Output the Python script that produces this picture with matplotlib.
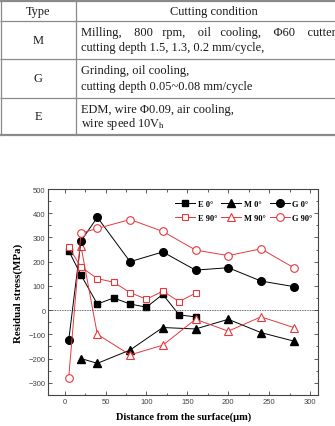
import matplotlib
matplotlib.use("Agg")
import matplotlib.pyplot as plt
from matplotlib.ticker import MultipleLocator

plt.rcParams['font.family'] = ['Liberation Serif', 'DejaVu Serif']
plt.rcParams['mathtext.fontset'] = 'stix'

# table contents
col_heads = ["Type", "Cutting condition"]
types = ["M", "G", "E"]
conditions = [
    ["Milling,    800   rpm,    oil   cooling,    \u03a660    cutter", "cutting depth 1.5, 1.3, 0.2 mm/cycle,"],
    ["Grinding, oil cooling,", "cutting depth 0.05~0.08 mm/cycle"],
    ["EDM, wire \u03a60.09, air cooling,", "wire speed 10V$_\\mathrm{h}$"],
]

# residual stress data (MPa) vs distance (um)
x_e = [5, 20, 40, 60, 80, 100, 120, 140, 160]
e0 = [245, 145, 25, 50, 25, 12, 65, -20, -28]
e90 = [260, 178, 130, 115, 72, 45, 78, 35, 70]
x_m = [20, 40, 80, 120, 160, 200, 240, 280]
m0 = [-200, -220, -165, -72, -78, -38, -93, -128]
m90 = [264, -100, -185, -145, -38, -87, -28, -72]
x_g = [5, 20, 40, 80, 120, 160, 200, 240, 280]
g0 = [-125, 285, 383, 200, 240, 165, 175, 120, 97]
g90 = [-280, 318, 337, 374, 325, 248, 225, 253, 175]

fig = plt.figure(figsize=(3.35, 4.27), dpi=100)

# --- table drawn in pixel coordinates ---
tab = fig.add_axes([0, 0, 1, 1])
tab.set_xlim(0, 335)
tab.set_ylim(427, 0)
tab.axis('off')
rows = [2, 22, 60, 98.7, 135.7]
lc = '#8a8a8a'
for i, yy in enumerate(rows):
    lw = 1.6 if i in (0, len(rows) - 1) else 0.9
    tab.plot([0, 335], [yy, yy], color=lc, lw=lw, solid_capstyle='butt')
tab.plot([76, 76], [rows[0], rows[-1]], color=lc, lw=0.9)
tab.plot([0.6, 0.6], [rows[0], rows[-1]], color=lc, lw=0.9)

fs = 8.9
tc = '#1a1a1a'
tab.text(38, 12, col_heads[0], ha='center', va='center', fontsize=fs, color=tc)
tab.text(214, 12, col_heads[1], ha='center', va='center', fontsize=fs, color=tc)
for i, t in enumerate(types):
    top, bot = rows[i + 1], rows[i + 2]
    tab.text(38, (top + bot) / 2, t, ha='center', va='center', fontsize=fs, color=tc)
    l1, l2 = conditions[i]
    tab.text(81, top + 11, l1, ha='left', va='center', fontsize=fs, color=tc)
    tab.text(81, bot - 12, l2, ha='left', va='center', fontsize=fs, color=tc)

# --- chart ---
ax = fig.add_axes([0.144, 0.073, 0.806, 0.482])
red = '#e5393d'
ms = 5
ax.plot(x_e, e0, '-s', color='black', lw=0.7, ms=ms, label='E 0\u00b0')
ax.plot(x_e, e90, '-s', color=red, lw=0.7, ms=ms, mfc='white', mew=0.8, label='E 90\u00b0')
ax.plot(x_m, m0, '-^', color='black', lw=0.7, ms=ms + 0.5, label='M 0\u00b0')
ax.plot(x_m, m90, '-^', color=red, lw=0.7, ms=ms + 0.5, mfc='white', mew=0.8, label='M 90\u00b0')
ax.plot(x_g, g0, '-o', color='black', lw=0.7, ms=ms + 0.5, label='G 0\u00b0')
ax.plot(x_g, g90, '-o', color=red, lw=0.7, ms=ms + 0.5, mfc='white', mew=0.8, label='G 90\u00b0')
ax.axhline(0, color='#333333', lw=0.6, ls=(0, (1, 1)))

ax.set_xlim(-20, 310)
ax.set_ylim(-350, 500)
ax.xaxis.set_major_locator(MultipleLocator(50))
ax.xaxis.set_minor_locator(MultipleLocator(25))
ax.yaxis.set_major_locator(MultipleLocator(100))
ax.yaxis.set_minor_locator(MultipleLocator(50))
ax.tick_params(which='both', direction='in', top=True, right=True,
               colors='#444444', labelsize=5.5, pad=2, width=0.6)
ax.tick_params(which='major', length=3)
ax.tick_params(which='minor', length=1.8)
for lab in ax.get_xticklabels() + ax.get_yticklabels():
    lab.set_family('Liberation Sans')
for s in ax.spines.values():
    s.set_color('#444444')
    s.set_linewidth(0.8)

ax.set_xlabel('Distance from the surface(\u03bcm)', fontsize=7.5, fontweight='bold', labelpad=5)
ax.set_ylabel('Residual stress(MPa)', fontsize=7.8, fontweight='bold', labelpad=4)

ax.legend(loc='upper right', ncol=3, frameon=False, bbox_to_anchor=(1.0, 0.975),
          prop={'size': 6, 'weight': 'bold'}, handlelength=2.4, handletextpad=0.3,
          columnspacing=0.5, labelspacing=0.75, borderaxespad=0.3)

fig.savefig('out.png', dpi=100)
